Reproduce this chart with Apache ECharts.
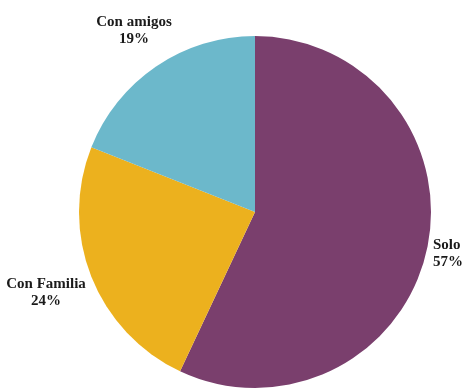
<!DOCTYPE html>
<html>
<head>
<meta charset="utf-8">
<script src="https://cdn.jsdelivr.net/npm/echarts@6/dist/echarts.min.js"></script>
<style>html,body{margin:0;padding:0;background:#fff}#c{width:464px;height:388px}</style>
</head>
<body>
<div id="c"></div>
<script>
const categories = ['Solo', 'Con Familia', 'Con amigos'];
const values = [57, 24, 19];
const colors = ['#7A3F6D', '#ECB11E', '#6CB8CB'];

const labelSpots = [
  { x: 433, y: 254, align: 'left' },
  { x: 46, y: 293, align: 'center' },
  { x: 134, y: 31, align: 'center' }
];

const chart = echarts.init(document.getElementById('c'));
chart.setOption({
  animation: false,
  series: [{
    type: 'pie',
    center: [255, 212],
    radius: 176,
    startAngle: 90,
    clockwise: true,
    avoidLabelOverlap: false,
    data: categories.map((n, i) => ({ name: n, value: values[i], itemStyle: { color: colors[i] } })),
    label: {
      show: true,
      position: 'outside',
      alignTo: 'none',
      overflow: 'none',
      formatter: p => p.name + '\n' + p.value + '%',
      fontFamily: 'Liberation Serif',
      fontWeight: 'bold',
      fontSize: 15,
      lineHeight: 17,
      color: '#1a1a1a',
      align: 'center'
    },
    labelLine: { show: false },
    labelLayout: function (params) {
      const s = labelSpots[params.dataIndex];
      return { x: s.x, y: s.y, align: s.align, verticalAlign: 'middle', hideOverlap: false };
    },
    emphasis: { disabled: true }
  }]
});
</script>
</body>
</html>
